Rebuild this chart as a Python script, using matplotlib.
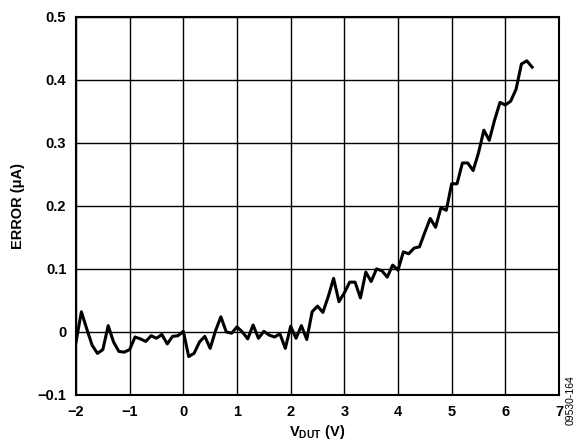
import matplotlib
matplotlib.use("Agg")
import matplotlib.pyplot as plt
import numpy as np

plt.rcParams['font.family'] = ['Liberation Sans', 'DejaVu Sans']
plt.rcParams['mathtext.fontset'] = 'custom'
plt.rcParams['mathtext.rm'] = 'Liberation Sans:bold'
plt.rcParams['mathtext.bf'] = 'Liberation Sans:bold'
plt.rcParams['mathtext.it'] = 'Liberation Sans:bold'

v_dut = [-2.0, -1.9, -1.8, -1.7, -1.6, -1.5, -1.4, -1.3, -1.2, -1.1,
         -1.0, -0.9, -0.8, -0.7, -0.6, -0.5, -0.4, -0.3, -0.2, -0.1,
         0.0, 0.1, 0.2, 0.3, 0.4, 0.5, 0.6, 0.7, 0.8, 0.9,
         1.0, 1.1, 1.2, 1.3, 1.4, 1.5, 1.6, 1.7, 1.8, 1.9,
         2.0, 2.1, 2.2, 2.3, 2.4, 2.5, 2.6, 2.7, 2.8, 2.9,
         3.0, 3.1, 3.2, 3.3, 3.4, 3.5, 3.6, 3.7, 3.8, 3.9,
         4.0, 4.1, 4.2, 4.3, 4.4, 4.5, 4.6, 4.7, 4.8, 4.9,
         5.0, 5.1, 5.2, 5.3, 5.4, 5.5, 5.6, 5.7, 5.8, 5.9,
         6.0, 6.1, 6.2, 6.3, 6.4, 6.5]

error_ua = [-0.016, 0.032, 0.005, -0.021, -0.034, -0.028, 0.010, -0.016, -0.031, -0.032,
            -0.028, -0.008, -0.011, -0.015, -0.006, -0.010, -0.004, -0.019, -0.007, -0.006,
            0.001, -0.039, -0.034, -0.016, -0.007, -0.026, 0.002, 0.024, 0.000, -0.002,
            0.008, 0.000, -0.011, 0.011, -0.010, 0.001, -0.005, -0.008, -0.003, -0.026,
            0.009, -0.010, 0.010, -0.012, 0.032, 0.041, 0.031, 0.056, 0.085, 0.048,
            0.062, 0.079, 0.079, 0.054, 0.095, 0.080, 0.100, 0.097, 0.087, 0.106,
            0.098, 0.127, 0.124, 0.133, 0.135, 0.158, 0.180, 0.166, 0.197, 0.193,
            0.235, 0.235, 0.268, 0.268, 0.256, 0.284, 0.320, 0.304, 0.336, 0.364,
            0.360, 0.366, 0.385, 0.425, 0.430, 0.420]

x_ticks = [-2, -1, 0, 1, 2, 3, 4, 5, 6, 7]
y_ticks = [-0.1, 0, 0.1, 0.2, 0.3, 0.4, 0.5]
y_ticklabels = ['\u22120.1', '0', '0.1', '0.2', '0.3', '0.4', '0.5']
x_ticklabels = ['\u22122', '\u22121', '0', '1', '2', '3', '4', '5', '6', '7']

fig = plt.figure(figsize=(5.81, 4.42), dpi=100)
ax = fig.add_axes([76/581, 1-395/442, (559-76)/581, (395-16.7)/442])

ax.plot(v_dut, error_ua, color='black', linewidth=2.2, zorder=3)

ax.set_xlim(-2, 7)
ax.set_ylim(-0.1, 0.5)
ax.set_xticks(x_ticks)
ax.set_xticklabels(x_ticklabels)
ax.set_yticks(y_ticks)
ax.set_yticklabels(y_ticklabels)
ax.tick_params(length=0, pad=7, labelsize=10.5)
for lab in ax.get_xticklabels() + ax.get_yticklabels():
    lab.set_fontweight('bold')

ax.grid(True, color='black', linewidth=1.0)
for s in ax.spines.values():
    s.set_linewidth(1.5)
    s.set_color('black')

ax.set_xlabel(r'V$_{\mathrm{DUT}}$ (V)', fontsize=10.5, fontweight='bold', labelpad=3)
ax.set_ylabel('ERROR (\u03bcA)', fontsize=10.5, fontweight='bold', labelpad=9)

fig.text(0.982, 0.095, '09530-164', rotation=90, fontsize=7.5, ha='center', va='center')

fig.savefig('out.png', dpi=100)
